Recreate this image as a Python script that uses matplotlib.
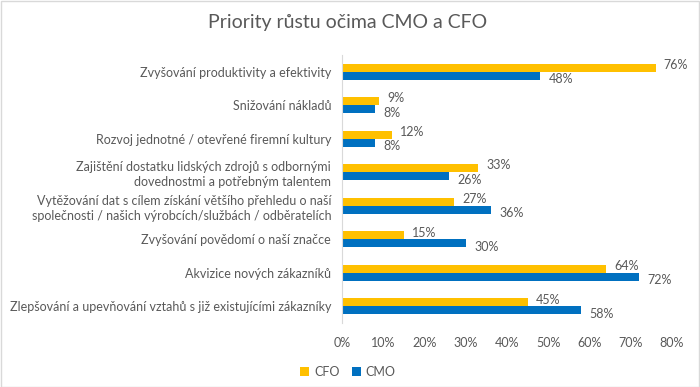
import matplotlib
matplotlib.use("Agg")
import matplotlib.pyplot as plt
import numpy as np
from matplotlib.patches import Rectangle

categories = [
    "Zvyšování produktivity a efektivity",
    "Snižování nákladů",
    "Rozvoj jednotné / otevřené firemní kultury",
    "Zajištění dostatku lidských zdrojů s odbornými\ndovednostmi a potřebným talentem",
    "Vytěžování dat s cílem získání většího přehledu o naší\nspolečnosti / našich výrobcích/službách / odběratelích",
    "Zvyšování povědomí o naší značce",
    "Akvizice nových zákazníků",
    "Zlepšování a upevňování vztahů s již existujícími zákazníky",
]
cfo = [76, 9, 12, 33, 27, 15, 64, 45]
cmo = [48, 8, 8, 26, 36, 30, 72, 58]
xticks = [0, 10, 20, 30, 40, 50, 60, 70, 80]
title = "Priority růstu očima CMO a CFO"

FONT = ["Lato", "DejaVu Sans"]
plt.rcParams["font.family"] = FONT
GRAY = "#595959"
YEL = "#FFC000"
BLUE = "#0070C0"

fig = plt.figure(figsize=(7, 3.87), dpi=100)
ax = fig.add_axes([0.489, 0.165, 0.471, 0.693])

y = np.arange(len(categories))
h = 0.24
ax.barh(y - h / 2, cfo, height=h, color=YEL, label="CFO")
ax.barh(y + h / 2, cmo, height=h, color=BLUE, label="CMO")

for yi, v in zip(y, cfo):
    ax.annotate(f"{v}%", (v, yi - h / 2), xytext=(6, 2), textcoords="offset points",
                va="center", ha="left", fontsize=9, color=GRAY)
for yi, v in zip(y, cmo):
    ax.annotate(f"{v}%", (v, yi + h / 2), xytext=(6, -2.5), textcoords="offset points",
                va="center", ha="left", fontsize=9, color=GRAY)

ax.set_xlim(0, 80)
ax.set_ylim(len(categories) - 0.5, -0.5)
ax.set_xticks(xticks)
ax.set_xticklabels([f"{t}%" for t in xticks], fontsize=9, color=GRAY)
ax.set_yticks(y)
ax.set_yticklabels(categories, fontsize=9, color=GRAY, linespacing=1.3)
ax.tick_params(axis="both", length=0)
ax.tick_params(axis="x", pad=10)
ax.tick_params(axis="y", pad=8)
for s in ["top", "right", "bottom"]:
    ax.spines[s].set_visible(False)
ax.spines["left"].set_color("#D9D9D9")

fig.text(0.497, 0.943, title, ha="center", va="center", fontsize=14, color=GRAY)

handles, labels = ax.get_legend_handles_labels()
leg = fig.legend(handles, labels, loc="center", bbox_to_anchor=(0.497, 0.04), ncol=2,
                 frameon=False, fontsize=9, handlelength=0.7, handleheight=0.7,
                 handletextpad=0.4, columnspacing=1.0)
for t in leg.get_texts():
    t.set_color(GRAY)

fig.patches.append(Rectangle((0.001, 0.001), 0.998, 0.997, transform=fig.transFigure,
                             fill=False, edgecolor="#D9D9D9", linewidth=1))

fig.savefig("out.png", dpi=100)
